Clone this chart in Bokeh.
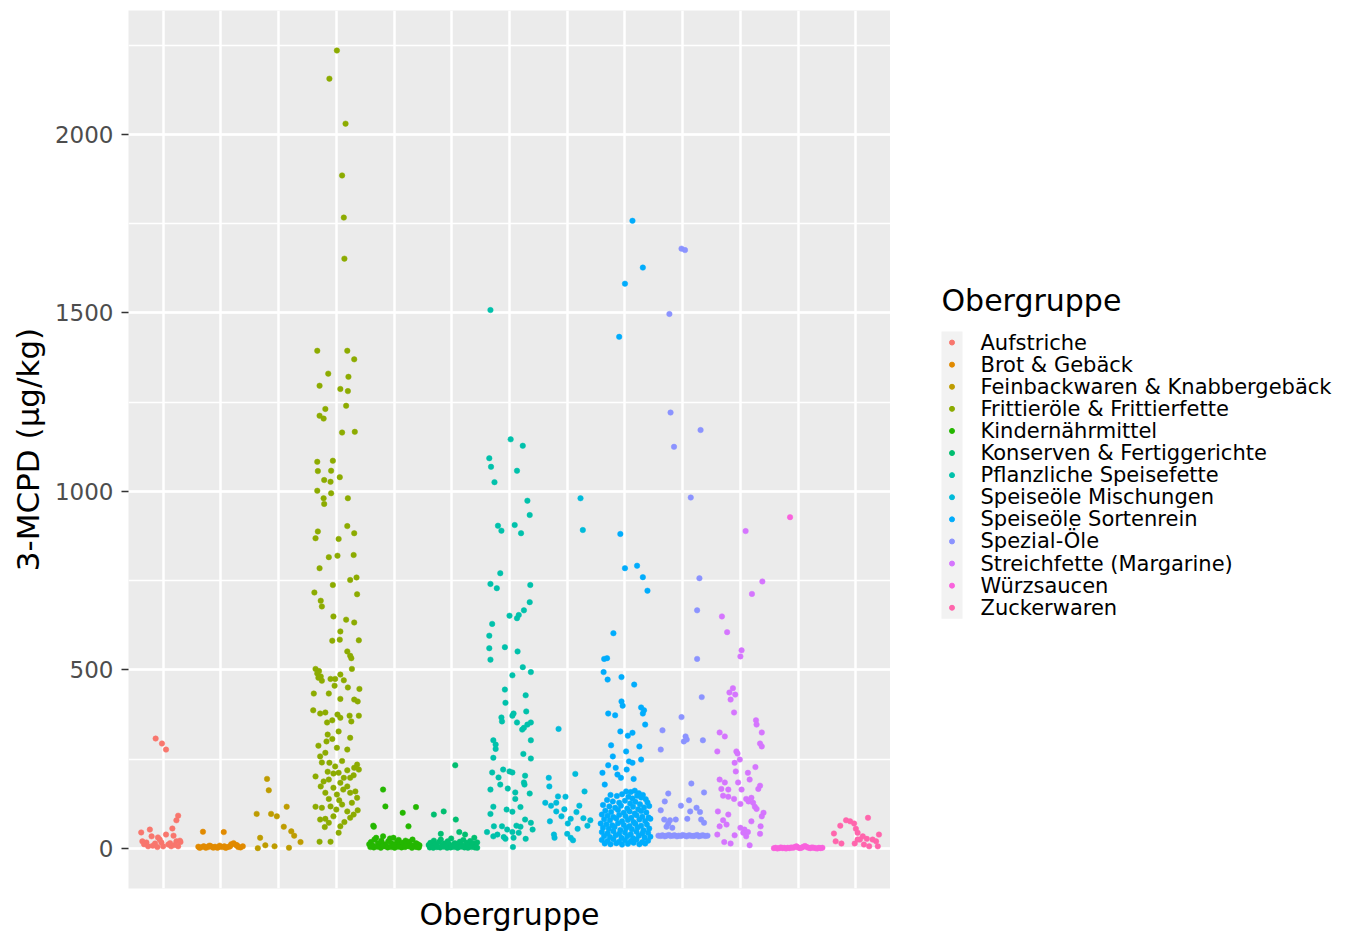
from bokeh.plotting import figure
from bokeh.models import ColumnDataSource, SingleIntervalTicker, FixedTicker, Range1d, Title
from bokeh.layouts import row
from bokeh.core.properties import value
from bokeh.embed import file_html
from bokeh.resources import INLINE

categories = ["Aufstriche", "Brot & Gebäck", "Feinbackwaren & Knabbergebäck",
              "Frittieröle & Frittierfette", "Kindernährmittel", "Konserven & Fertiggerichte",
              "Pflanzliche Speisefette", "Speiseöle Mischungen", "Speiseöle Sortenrein",
              "Spezial-Öle", "Streichfette (Margarine)", "Würzsaucen", "Zuckerwaren"]
colors = ["#F8766D", "#E18A00", "#BE9C00", "#8CAB00", "#24B700", "#00BE70", "#00C1AB",
          "#00BBDA", "#00ACFC", "#8B93FF", "#D575FE", "#F962DD", "#FF65AC"]

aufstriche_y = [308, 294, 277, 92, 79, 56, 36, 39, 45, 53, 34, 31, 17, 14, 17, 11, 20, 22, 20, 6, 6, 6, 6, 12, 8, 25, 15, 10, 4, 18]
aufstriche_dx = [-0.13, -0.02, 0.05, 0.26, 0.23, 0.16, 0.18, 0.05, -0.38, -0.23, -0.20, -0.09, -0.29, -0.14, -0.03, 0.09, 0.23, 0.29, -0.36, -0.26, 0.00, 0.14, 0.26, -0.33, -0.18, -0.06, 0.12, 0.20, -0.10, 0.30]

brot_y = [47, 46, 5, 3, 6, 2, 4, 7, 3, 5, 2, 8, 4, 6, 3, 5, 12, 15, 10, 4, 3, 6, 2, 5, 8, 3, 4, 2, 6, 9]
brot_dx = [-0.31, 0.05, -0.39, -0.35, -0.30, -0.26, -0.22, -0.18, -0.14, -0.10, -0.06, -0.02, 0.02, 0.06, 0.10, 0.14, 0.18, 0.22, 0.26, 0.30, 0.34, 0.38, -0.37, -0.28, -0.20, -0.12, -0.04, 0.08, 0.16, 0.28]

feinback_y = [195, 163, 97, 97, 90, 117, 61, 48, 36, 18, 30, 9, 6, 1, 2]
feinback_dx = [-0.20, -0.17, -0.38, -0.13, -0.03, 0.14, 0.09, 0.22, 0.27, 0.38, -0.32, -0.23, -0.07, -0.36, 0.18]

frittier_y = [2235, 2156, 2030, 1885, 1767, 1652, 1394, 1394, 1370, 1330, 1321, 1296, 1287, 1281, 1240, 1231, 1212, 1204, 1165, 1167,
              1083, 1086, 1057, 1058, 1040, 1032, 1027, 1002, 995, 981, 981, 965, 903, 883, 888, 869, 867, 822, 820, 816,
              785, 752, 759, 738, 717, 712, 694, 678, 650, 641, 633, 608, 582, 585, 583, 552, 540, 533, 503,
              503, 497, 490, 482, 478, 470, 475, 475, 487, 471, 451, 447, 456, 434, 434, 419, 417, 412, 387, 378, 381,
              353, 359, 375, 366, 372, 372, 356, 319, 328, 307, 300, 282, 288, 310, 277, 268, 258, 241, 240, 235,
              226, 221, 219, 212, 210, 202, 198, 198, 193, 184, 174, 170, 174, 156, 151, 156, 142, 139, 117, 114,
              118, 123, 128, 109, 104, 107, 81, 72, 83, 74, 86, 44, 19, 19, 90, 62,
              230, 205, 165, 188, 135, 95, 60, 245, 215, 160]
frittier_dx = [0.01, -0.12, 0.16, 0.10, 0.13, 0.14, -0.33, 0.19, 0.31, -0.14, 0.21, -0.29, 0.07, 0.20, 0.17, -0.19, -0.29, -0.22, 0.10, 0.32,
               -0.33, -0.06, -0.32, -0.09, 0.06, -0.21, -0.10, -0.33, -0.09, -0.22, 0.20, -0.21, 0.19, 0.31, -0.32, -0.36, 0.04, 0.30, 0.02, -0.13,
               -0.29, 0.24, 0.35, -0.06, -0.38, 0.36, -0.27, -0.25, -0.05, 0.17, 0.31, 0.07, -0.07, 0.06, 0.39, 0.19, 0.24, 0.26, 0.27,
               -0.36, -0.30, -0.33, -0.27, -0.31, -0.25, -0.10, -0.02, 0.07, 0.13, 0.20, 0.40, -0.03, -0.39, -0.13, 0.07, 0.31, 0.37, -0.40, -0.28, -0.19,
               -0.16, -0.07, 0.02, 0.07, 0.23, 0.39, 0.26, -0.15, 0.04, -0.07, -0.17, 0.01, -0.31, 0.24, 0.19, -0.19, -0.28, -0.25, -0.12, 0.36,
               0.31, 0.39, 0.19, 0.04, -0.05, -0.36, 0.13, 0.24, -0.13, 0.07, -0.27, -0.05, 0.19, -0.19, 0.01, 0.24, 0.36, -0.13, -0.36, -0.25,
               -0.10, 0.10, 0.27, 0.00, 0.19, 0.37, -0.28, -0.13, -0.19, 0.14, 0.24, 0.04, -0.29, -0.10, -0.05, 0.07,
               -0.02, 0.30, 0.12, -0.22, 0.05, 0.30, -0.20, 0.10, -0.15, 0.33]

kinder_y = [165, 118, 100, 116, 62, 64, 61,
            12, 18, 8, 25, 30, 15, 10, 22, 34, 12, 6, 20, 28, 14, 30, 9, 18, 24, 11, 16, 7, 22, 13, 19, 10, 25, 8, 15, 12, 9,
            4, 3, 5, 2, 6, 3, 4, 2, 5, 3, 4, 6, 2, 5, 3, 8, 7, 9, 6, 4]
kinder_dx = [-0.19, -0.15, 0.15, 0.38, 0.25, -0.36, -0.35,
             -0.43, -0.40, -0.37, -0.34, -0.31, -0.28, -0.25, -0.22, -0.19, -0.16, -0.13, -0.10, -0.07, -0.04, -0.01, 0.02, 0.05, 0.08, 0.11, 0.14, 0.17, 0.20, 0.23, 0.26, 0.29, 0.32, 0.35, 0.38, 0.41, 0.44,
             -0.41, -0.35, -0.29, -0.23, -0.17, -0.11, -0.05, 0.01, 0.07, 0.13, 0.19, 0.25, 0.31, 0.37, 0.43, -0.38, -0.20, 0.00, 0.20, 0.40]

konserven_y = [233, 95, 104, 81, 41, 46, 39, 30,
               10, 16, 7, 22, 12, 5, 18, 25, 9, 14, 6, 20, 11, 28, 8, 15, 13, 4, 19, 10, 24, 7, 16, 12, 21, 9, 14, 6, 17,
               3, 2, 4, 3, 5, 2, 3, 4, 2, 5, 3, 2, 4, 3, 2]
konserven_dx = [0.06, -0.31, -0.14, 0.07, -0.19, 0.13, 0.23, 0.39,
                -0.40, -0.37, -0.34, -0.31, -0.28, -0.25, -0.22, -0.19, -0.16, -0.13, -0.10, -0.07, -0.04, -0.01, 0.02, 0.05, 0.08, 0.11, 0.14, 0.17, 0.20, 0.23, 0.26, 0.29, 0.32, 0.35, 0.38, 0.41, 0.44,
                -0.38, -0.32, -0.26, -0.20, -0.14, -0.08, -0.02, 0.04, 0.10, 0.16, 0.22, 0.28, 0.34, 0.40, 0.44]

pflanzlich_y = [1508, 1146, 1128, 1093, 1069, 1058, 1026, 974, 934, 904, 890, 906, 883, 771, 741, 729, 738,
                690, 667, 645, 654, 652, 629, 596, 561, 529, 564, 552, 508, 494, 485, 445, 429, 408, 378, 372, 384,
                367, 356, 353, 353, 347, 338, 333, 303, 291, 279, 303, 254, 265, 252, 213, 221, 216, 213, 204, 199,
                185, 179, 179, 168, 165, 157, 154, 139, 117, 116, 109, 103, 97, 81, 72, 62, 62, 64, 61, 53,
                46, 34, 39, 53, 46, 27, 30, 27, 4, 32, 44]
pflanzlich_dx = [-0.33, 0.02, 0.23, -0.35, -0.32, 0.13, -0.26, 0.31, 0.35, -0.20, -0.14, 0.09, 0.20, -0.16, -0.33, -0.22, 0.36,
                 0.35, 0.25, 0.13, 0.16, 0.00, -0.30, -0.35, -0.35, -0.33, -0.08, 0.14, 0.23, 0.37, 0.05, -0.08, 0.28, -0.07, 0.07, 0.05, 0.29,
                 -0.14, -0.13, 0.13, 0.37, 0.31, 0.25, 0.22, -0.28, -0.24, -0.24, 0.37, -0.28, 0.24, 0.37, -0.30, -0.11, 0.00, 0.05, 0.27, -0.19,
                 0.25, 0.26, -0.16, -0.03, -0.33, 0.10, 0.35, 0.10, -0.28, 0.19, -0.05, 0.05, -0.33, 0.27, 0.37, -0.27, -0.13, 0.12, 0.19, 0.40,
                 -0.39, -0.28, -0.21, -0.04, 0.05, -0.07, 0.07, 0.28, 0.06, -0.10, 0.16]

mischungen_y = [981, 892, 335, 209, 198, 174, 146, 145, 128, 120, 128, 120, 104, 102, 83, 85, 79, 76, 70, 64, 39, 30, 41, 30, 23, 90, 55, 160, 110]
mischungen_dx = [0.23, 0.27, -0.15, 0.14, -0.32, -0.31, -0.16, -0.03, -0.38, -0.28, -0.19, 0.21, -0.19, 0.16, 0.06, 0.28, 0.40, -0.30, 0.01, 0.35, -0.23, -0.22, 0.00, 0.06, 0.10, -0.10, 0.18, 0.30, -0.05]

sortenrein_y = [1758, 1627, 1582, 1433, 881, 785, 792, 760, 722,
                603, 531, 533, 494, 473, 480, 459, 412, 400, 395, 387, 378, 378, 373, 347, 328, 316, 324, 289, 272,
                286, 258, 244, 240, 249, 233, 226, 221, 212, 207, 198, 195, 179,
                160, 158, 162, 155, 150, 150, 147, 152, 145, 140, 148, 143, 138,
                136, 132, 128, 134, 126, 131, 124, 129, 122, 118, 114, 120, 112, 117, 110, 115, 119,
                106, 102, 108, 100, 104, 98, 105, 101, 95, 92, 88, 94, 90, 86, 93, 89, 87,
                82, 79, 84, 76, 80, 74, 81, 77, 83, 70, 68, 65, 71, 66, 63, 69, 64, 67,
                58, 55, 60, 52, 57, 54, 59, 51, 56, 46, 43, 48, 41, 45, 40, 47, 42, 44,
                35, 32, 37, 30, 34, 29, 36, 31, 33, 24, 21, 26, 19, 23, 20, 25, 18, 22,
                14, 12, 15, 11, 13, 16, 12, 14]
sortenrein_dx = [0.13, 0.31, 0.00, -0.10, -0.08, 0.00, 0.21, 0.31, 0.39,
                 -0.20, -0.36, -0.31, -0.37, -0.30, -0.06, 0.16, -0.06, -0.04, 0.28, 0.33, 0.31, -0.29, -0.17, 0.35, -0.08, 0.05, 0.13, -0.24, 0.02,
                 0.25, -0.21, 0.07, 0.13, 0.28, -0.29, -0.16, 0.03, -0.39, -0.13, -0.07, 0.15, -0.35,
                 0.02, 0.10, 0.17, 0.24, 0.31, -0.25, -0.14, -0.05, 0.06, 0.13, 0.21, 0.28, 0.36,
                 -0.31, -0.21, -0.10, 0.00, 0.09, 0.18, 0.26, 0.39, -0.38, -0.27, -0.17, -0.07, 0.04, 0.14, 0.23, 0.33, 0.42,
                 -0.34, -0.24, -0.12, -0.02, 0.08, 0.17, 0.28, 0.37, -0.40, -0.30, -0.20, -0.10, 0.01, 0.11, 0.20, 0.30, 0.41,
                 -0.36, -0.26, -0.15, -0.05, 0.05, 0.15, 0.25, 0.35, 0.44, -0.42, -0.32, -0.22, -0.12, -0.02, 0.08, 0.18, 0.28, 0.38,
                 -0.38, -0.28, -0.18, -0.08, 0.02, 0.12, 0.22, 0.32, 0.42, -0.40, -0.30, -0.20, -0.10, 0.00, 0.10, 0.20, 0.30, 0.40,
                 -0.36, -0.26, -0.16, -0.06, 0.04, 0.14, 0.24, 0.34, 0.44, -0.40, -0.30, -0.20, -0.10, 0.00, 0.10, 0.20, 0.30, 0.40,
                 -0.35, -0.25, -0.15, -0.05, 0.05, 0.15, 0.25, 0.35]

spezial_y = [1680, 1676, 1497, 1221, 1172, 1125, 983, 757,
             667, 531, 424, 368, 331, 314, 300, 305, 303, 277, 182, 154, 157, 132, 120, 135, 114, 107, 104, 102, 81, 79, 81, 83, 81, 72, 61, 58, 70,
             36, 35, 37, 34, 36, 38, 35, 36, 37, 34, 36, 35, 38, 36, 34, 37, 36, 35, 36, 38, 34, 36, 37, 35, 36]
spezial_dx = [-0.02, 0.04, -0.23, -0.21, 0.31, -0.15, 0.14, 0.29,
              0.25, 0.25, 0.33, -0.02, -0.35, 0.05, 0.02, 0.07, 0.35, -0.38, 0.15, -0.25, 0.37, -0.31, -0.03, 0.11, 0.24, -0.38, 0.13, 0.30, -0.32, -0.22, -0.12, 0.08, 0.32, 0.37, -0.28, -0.18, -0.25,
              -0.42, -0.38, -0.35, -0.31, -0.28, -0.24, -0.21, -0.17, -0.14, -0.10, -0.07, -0.03, 0.00, 0.04, 0.07, 0.11, 0.14, 0.18, 0.21, 0.25, 0.28, 0.32, 0.35, 0.39, 0.43]

streichfette_y = [889, 748, 713, 650, 606, 555, 538, 449, 437, 431, 417, 381, 359, 347, 325, 294, 286, 325, 314, 272,
                  272, 266, 249, 240, 228, 212, 216, 193, 185, 193, 176, 167, 167, 165, 185, 165, 148, 145, 139, 139,
                  142, 132, 128, 125, 117, 111, 100, 90, 104, 95, 79, 76, 62, 67, 58, 53, 44, 46, 62, 41, 39, 37, 34, 18, 14, 9]
streichfette_dx = [0.09, 0.38, 0.20, -0.32, -0.23, 0.02, 0.00, -0.13, -0.19, -0.09, -0.17, -0.11, 0.27, 0.28, 0.37, 0.34, 0.37, -0.36, -0.27, -0.40,
                   -0.07, -0.05, -0.01, -0.10, 0.26, 0.13, -0.08, -0.36, -0.27, 0.16, 0.34, 0.31, -0.33, -0.21, -0.04, 0.02, -0.30, -0.21, -0.11, 0.10,
                   0.19, 0.14, 0.22, 0.00, 0.25, 0.28, 0.40, 0.37, -0.39, -0.21, -0.30, 0.19, -0.36, -0.24, 0.00, 0.07, 0.05, 0.13, 0.35, 0.34, -0.40, -0.10, 0.10, -0.28, -0.17, 0.16]

wuerz_y = [928, 1, 2, 0, 1, 3, 1, 2, 0, 2, 1, 3, 2, 4, 6, 3, 1, 2, 5, 7, 4, 2, 1, 3, 2, 1, 0, 2, 1, 2]
wuerz_dx = [-0.14, -0.42, -0.39, -0.36, -0.33, -0.30, -0.27, -0.24, -0.21, -0.18, -0.15, -0.12, -0.09, -0.06, -0.03, 0.00, 0.03, 0.06, 0.09, 0.12, 0.15, 0.18, 0.21, 0.24, 0.27, 0.30, 0.33, 0.36, 0.39, 0.42]

zucker_y = [86, 64, 79, 76, 70, 55, 44, 42, 20, 14, 14, 25, 11, 6, 25, 20, 39, 6, 27, 34, 25]
zucker_dx = [0.21, -0.27, -0.17, -0.10, -0.03, 0.00, 0.03, -0.38, -0.35, -0.25, -0.02, 0.07, 0.14, 0.23, 0.29, 0.35, 0.40, 0.38, 0.19, 0.12, 0.03]

series = [(aufstriche_y, aufstriche_dx), (brot_y, brot_dx), (feinback_y, feinback_dx),
          (frittier_y, frittier_dx), (kinder_y, kinder_dx), (konserven_y, konserven_dx),
          (pflanzlich_y, pflanzlich_dx), (mischungen_y, mischungen_dx), (sortenrein_y, sortenrein_dx),
          (spezial_y, spezial_dx), (streichfette_y, streichfette_dx), (wuerz_y, wuerz_dx), (zucker_y, zucker_dx)]

FONT = "DejaVu Sans"
H = 938
TOP = 10
BOTTOM = 50
PLOT_W = 890
LEG_W = 450
FRAME_BOTTOM = H - BOTTOM

# ---------------- main panel ----------------
p = figure(width=PLOT_W, height=H,
           x_range=Range1d(0.4, 13.6), y_range=Range1d(-112, 2347),
           output_backend="svg", toolbar_location=None,
           min_border_left=128, min_border_top=TOP, min_border_bottom=BOTTOM, min_border_right=0)
p.background_fill_color = "#EBEBEB"
p.border_fill_color = "white"
p.outline_line_color = None

p.xaxis.visible = False
p.xgrid.ticker = FixedTicker(ticks=list(range(1, len(categories) + 1)))
p.xgrid.grid_line_color = "white"
p.xgrid.grid_line_width = 2.5

p.yaxis.ticker = SingleIntervalTicker(interval=500, num_minor_ticks=2)
p.yaxis.axis_line_color = None
p.yaxis.major_tick_out = 7
p.yaxis.major_tick_in = 0
p.yaxis.major_tick_line_color = "#333333"
p.yaxis.major_tick_line_width = 1.5
p.yaxis.minor_tick_line_color = None
p.yaxis.major_label_text_font = FONT
p.yaxis.major_label_text_font_size = "23px"
p.yaxis.major_label_text_color = "#4D4D4D"
p.yaxis.major_label_standoff = 8
p.yaxis.axis_label = "3-MCPD (µg/kg)"
p.yaxis.axis_label_text_font = FONT
p.yaxis.axis_label_text_font_size = "31px"
p.yaxis.axis_label_text_font_style = "normal"
p.yaxis.axis_label_text_color = "black"
p.yaxis.axis_label_standoff = 6

p.ygrid.grid_line_color = "white"
p.ygrid.grid_line_width = 2.5
p.ygrid.minor_grid_line_color = "white"
p.ygrid.minor_grid_line_width = 1.3

xtitle = Title(text="Obergruppe", align="center", text_font=FONT, text_font_size="30px",
               text_font_style="normal", text_color="black", standoff=12)
p.add_layout(xtitle, "below")

for i, (col, (ys, dxs)) in enumerate(zip(colors, series)):
    xs = [i + 1 + d for d in dxs]
    src = ColumnDataSource(data=dict(x=xs, y=ys))
    p.scatter("x", "y", source=src, size=5.5, fill_color=col, line_color=col, line_width=0.5)

# ---------------- legend panel (frame mapped to page pixels) ----------------
leg = figure(width=LEG_W, height=H, x_range=Range1d(PLOT_W, PLOT_W + LEG_W), y_range=Range1d(FRAME_BOTTOM, TOP),
             output_backend="svg", toolbar_location=None, x_axis_type=None, y_axis_type=None,
             min_border_left=0, min_border_right=0, min_border_top=TOP, min_border_bottom=BOTTOM)
leg.outline_line_color = None
leg.background_fill_color = "white"
leg.border_fill_color = "white"

key_left, key_right = 941, 962
row_top, row_h = 331, 22.1
n = len(categories)
leg.quad(left=[key_left], right=[key_right], top=[row_top], bottom=[row_top + n * row_h],
         fill_color="#F2F2F2", line_color=None)
centers = [row_top + (k + 0.5) * row_h for k in range(n)]
leg.scatter(x=[(key_left + key_right) / 2] * n, y=centers, size=5, fill_color=colors, line_color=colors)
leg.text(x=[980] * n, y=centers, text=categories,
         text_font=value(FONT), text_font_size="21px", text_color="black",
         text_baseline="middle", text_align="left")
leg.text(x=[941], y=[300], text=["Obergruppe"],
         text_font=value(FONT), text_font_size="30px", text_color="black",
         text_baseline="middle", text_align="left")

layout = row(p, leg)
open("out.html", "w").write(file_html(layout, INLINE))
